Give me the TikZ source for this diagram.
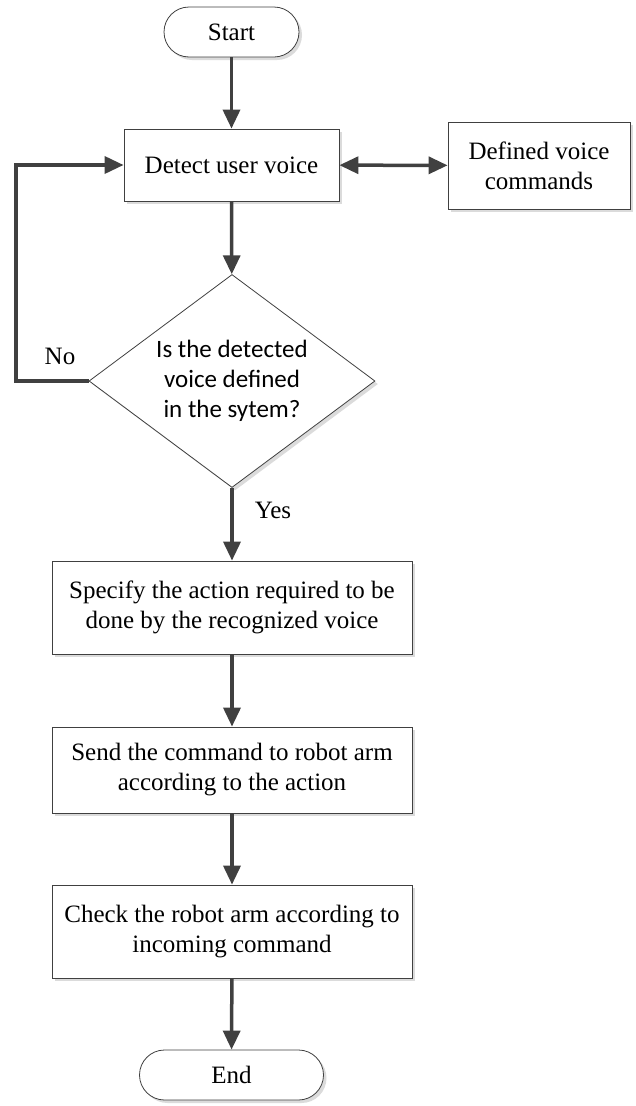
\documentclass[tikz,border=0pt]{standalone}
\usepackage{fontspec}
\setmainfont{Liberation Serif}
\newfontfamily\calfont{Carlito}
\usetikzlibrary{arrows.meta,shapes.geometric,shadows}
\definecolor{lc}{HTML}{404040}
\begin{document}
\begin{tikzpicture}[x=1pt,y=-1pt,
  shad/.style={drop shadow={shadow xshift=3pt,shadow yshift=-3pt,fill=black!14,opacity=1}},
  box/.style={draw=lc,line width=0.8pt,fill=white,shad,align=center,inner sep=0pt,font=\fontsize{25}{30}\selectfont},
  term/.style={box,rounded corners=25pt,minimum height=50pt},
  dec/.style={draw=lc,line width=0.8pt,fill=white,shad,diamond,aspect=1.343,inner sep=0pt,align=center,minimum width=286pt,minimum height=213pt,font=\calfont\fontsize{25}{30}\selectfont},
  conn/.style={draw=lc,line width=3.5pt,-{Triangle[length=19pt,width=17pt]}},
  lbl/.style={font=\fontsize{25}{30}\selectfont}]
\useasboundingbox (0,0) rectangle (636,1106);
\node[term,minimum width=135pt] (start) at (231.5,32) {Start};
\node[box,minimum width=215pt,minimum height=72pt] (detect) at (231.5,165) {Detect user voice};
\node[box,minimum width=182pt,minimum height=87pt] (defined) at (539,165.5) {Defined voice\\commands};
\node[dec] (dec) at (232,381) {Is the detected\\voice defined\\in the sytem?};
\node[box,minimum width=360pt,minimum height=93pt] (spec) at (232,607.5) {Specify the action required to be\\done by the recognized voice};
\node[box,minimum width=360pt,minimum height=86pt] (send) at (232,770) {Send the command to robot arm\\according to the action};
\node[box,minimum width=360pt,minimum height=93pt] (check) at (232,931.5) {Check the robot arm according to\\incoming command};
\node[term,minimum width=184pt] (end) at (231.5,1075) {End};
\coordinate (lx) at (16,381);
\draw[conn] (start) -- (detect);
\draw[conn,{Triangle[length=19pt,width=17pt]}-{Triangle[length=19pt,width=17pt]}] (detect) -- (defined);
\draw[conn] (detect) -- (dec);
\draw[conn] (dec.west) -- (lx) |- (detect.west);
\draw[conn] (dec) -- (spec);
\draw[conn] (spec) -- (send);
\draw[conn] (send) -- (check);
\draw[conn] (check) -- (end);
\node[lbl] (no) at (60,356) {No};
\node[lbl] (yes) at (273,510) {Yes};
\end{tikzpicture}
\end{document}
